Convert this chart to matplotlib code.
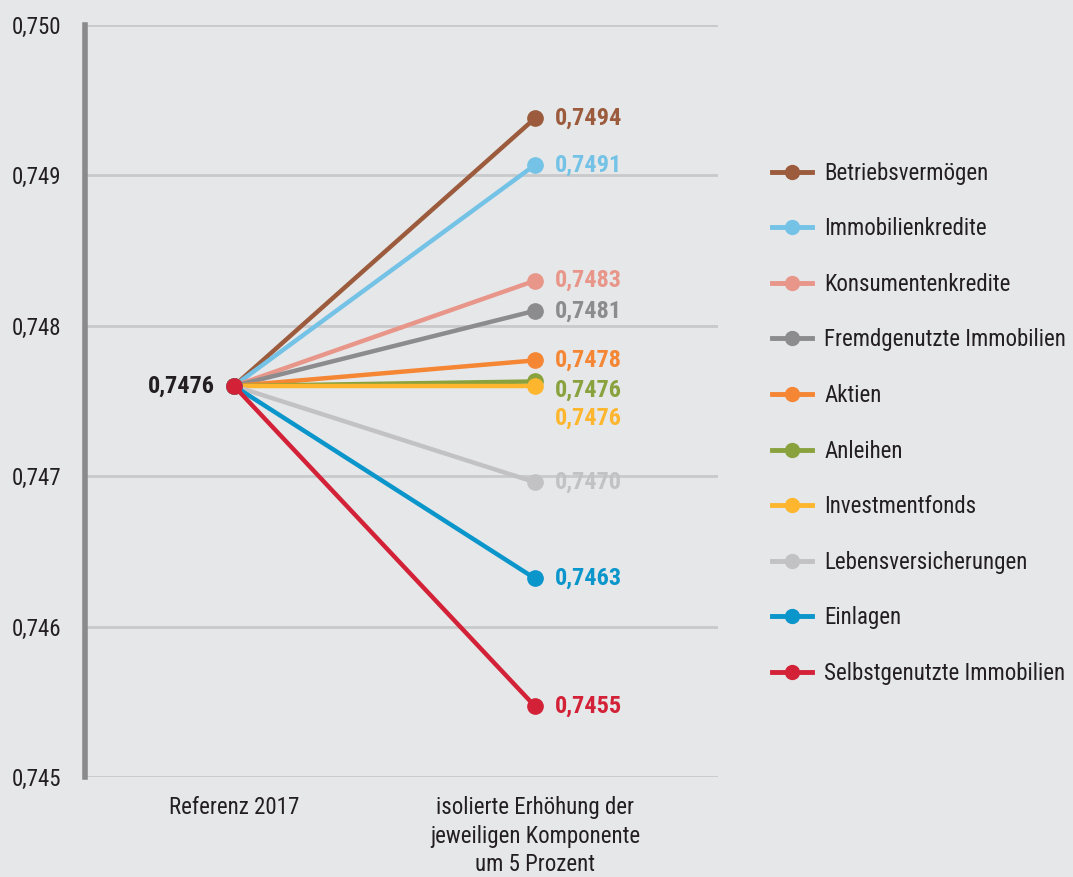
import matplotlib.pyplot as plt
from matplotlib.lines import Line2D
from matplotlib.ticker import FuncFormatter

plt.rcParams['font.family'] = ['Roboto Condensed', 'Roboto', 'DejaVu Sans']

categories = ['Referenz 2017', 'isolierte Erhöhung der\njeweiligen Komponente\num 5 Prozent']
reference = 0.7476
components = ['Betriebsvermögen', 'Immobilienkredite', 'Konsumentenkredite',
              'Fremdgenutzte Immobilien', 'Aktien', 'Anleihen', 'Investmentfonds',
              'Lebensversicherungen', 'Einlagen', 'Selbstgenutzte Immobilien']
values = [0.74938, 0.74907, 0.74830, 0.74810, 0.74777, 0.74763, 0.74760,
          0.74696, 0.74632, 0.74547]
value_labels = ['0,7494', '0,7491', '0,7483', '0,7481', '0,7478', '0,7476', '0,7476',
                '0,7470', '0,7463', '0,7455']
colors = ['#9B5B3C', '#74C3E6', '#E8968A', '#8C8C8F', '#F58634', '#89A23D',
          '#FDB62E', '#C2C2C4', '#0A95CB', '#D32238']
label_dy = [0, 0, 0, 0, 0, -6, -23, 0, 0, 0]

bg = '#E6E7E9'
txt = '#231F20'

fig = plt.figure(figsize=(10.73, 8.77), dpi=100, facecolor=bg)
ax = fig.add_axes([0.0792, 0.114, 0.5900, 0.8575], facecolor=bg)

for comp, v, lab, c, dy in zip(components, values, value_labels, colors, label_dy):
    ax.plot([0, 1], [reference, v], color=c, lw=3.2, marker='o', ms=11,
            solid_capstyle='butt', zorder=3, label=comp)
    ax.annotate(lab, (1, v), xytext=(14, dy), textcoords='offset points',
                color=c, fontsize=17.5, fontweight='bold', va='center', ha='left')

ax.annotate('0,7476', (0, reference), xytext=(-14, 0), textcoords='offset points',
            color=txt, fontsize=17.5, fontweight='bold', va='center', ha='right')

ax.set_xlim(-0.495, 1.608)
ax.set_ylim(0.745, 0.750)
ax.set_yticks([0.745, 0.746, 0.747, 0.748, 0.749, 0.750])
ax.yaxis.set_major_formatter(FuncFormatter(lambda y, p: f'{y:.3f}'.replace('.', ',')))
ax.set_xticks([0, 1])
ax.set_xticklabels(categories, linespacing=1.3)
ax.tick_params(axis='y', length=0, pad=17, labelsize=16.5, labelcolor=txt)
ax.tick_params(axis='x', length=0, pad=14, labelsize=16.5, labelcolor=txt)
ax.grid(axis='y', color='#C8C9CB', lw=2)
ax.set_axisbelow(True)
for s in ['top', 'right', 'bottom']:
    ax.spines[s].set_visible(False)
ax.spines['left'].set_color('#8A8A8C')
ax.spines['left'].set_linewidth(4)

handles = [Line2D([], [], color=c, lw=3.5, marker='o', ms=10) for c in colors]
fig.legend(handles, components, loc='upper left', bbox_to_anchor=(0.700, 0.839),
           frameon=False, fontsize=16.5, labelspacing=1.42, handlelength=1.75,
           handletextpad=0.55, labelcolor=txt)

fig.savefig('out.png', dpi=100, facecolor=bg)
